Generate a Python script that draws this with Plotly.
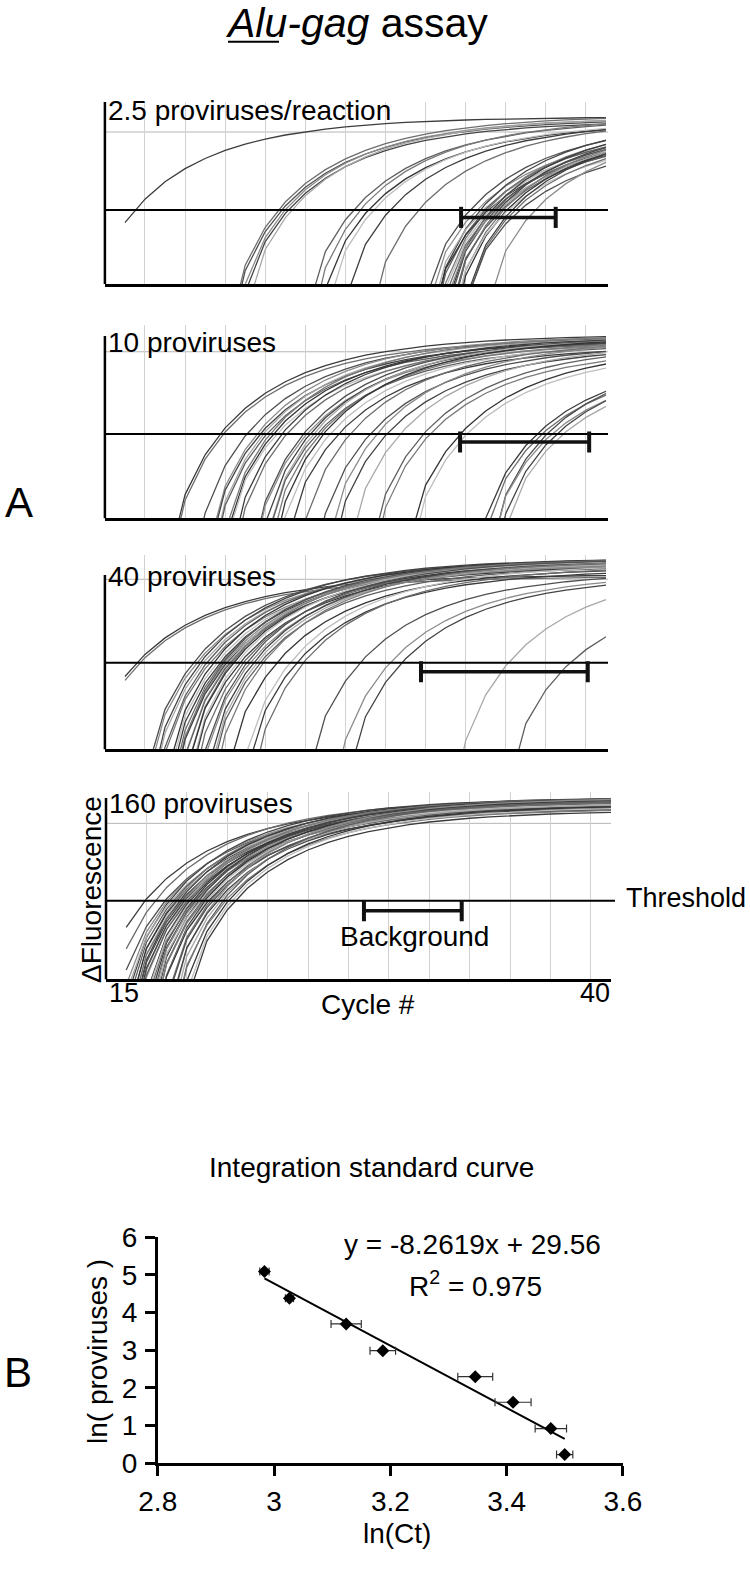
import math
import plotly.graph_objects as go

# ---------------- DATA ----------------
CYCLES = list(range(16, 41))           # data points per amplification curve
GRID_CYCLES = list(range(17, 40, 2))   # vertical grid lines

PANEL_LABELS = ["2.5 proviruses/reaction", "10 proviruses", "40 proviruses", "160 proviruses"]

# threshold-crossing cycles (Ct) of every curve, per panel
ct_p1 = [16.50, 23.65, 23.82, 23.99, 24.15, 24.32, 27.40, 27.73, 28.15, 28.40, 29.23, 30.64,
         33.22, 33.55, 33.72, 33.88, 33.97, 34.05, 34.13, 34.22, 34.30, 34.38, 34.47, 34.55,
         34.63, 34.72, 34.80, 34.88, 35.05, 35.13, 35.30, 35.46, 35.71, 36.46]
ct_p2 = [20.74, 20.91, 22.08, 22.57, 22.74, 22.90, 23.07, 23.24, 23.40, 23.57, 23.82, 24.07,
         24.90, 25.07, 25.23, 25.40, 25.57, 25.73, 25.90, 26.23, 26.65, 27.23, 28.23, 28.56,
         29.06, 29.73, 30.89, 31.22, 32.72, 33.05, 36.55, 36.80, 37.05, 37.30, 37.54, 37.87]
ct_p3 = [16.59, 16.75, 19.41, 19.58, 19.75, 19.91, 20.08, 20.24, 20.41, 20.58, 20.74, 20.83,
         20.91, 20.99, 21.08, 21.16, 21.24, 21.33, 21.41, 21.58, 21.74, 21.91, 22.08, 22.24,
         22.41, 22.57, 22.74, 22.90, 23.57, 24.24, 24.57, 24.90, 27.73, 29.23, 29.81, 35.13, 38.21]
ct_p4 = [16.93, 17.43, 17.92, 18.04, 18.14, 18.23, 18.33, 18.42, 18.50, 18.56, 18.63, 18.70,
         18.76, 18.83, 18.89, 18.96, 19.03, 19.09, 19.16, 19.22, 19.29, 19.36, 19.42, 19.49,
         19.57, 19.65, 19.74, 19.82, 19.90, 19.98, 20.08, 20.18, 20.28, 20.40, 20.51, 20.64,
         20.78, 20.91, 21.06, 21.22, 21.39]

# plateau fluorescence of every curve (relative units)
plat_p1 = [0.92, 0.93, 0.91, 0.92, 0.90, 0.92, 0.91, 0.92, 0.89, 0.90, 0.90, 0.91,
           0.90, 0.86, 0.92, 0.84, 0.88, 0.90, 0.82, 0.87, 0.91, 0.85, 0.88, 0.83,
           0.90, 0.86, 0.84, 0.89, 0.87, 0.82, 0.88, 0.85, 0.80, 0.88]
plat_p2 = [1.01, 0.99, 1.00, 1.01, 0.98, 1.00, 0.97, 1.01, 0.99, 0.96, 1.00, 0.98,
           1.00, 0.97, 0.99, 1.00, 0.96, 0.98, 1.00, 0.97, 0.95, 0.98, 0.96, 0.99,
           0.95, 0.97, 0.96, 0.94, 0.95, 0.93, 0.90, 0.88, 0.92, 0.87, 0.89, 0.86]
plat_p3 = [0.96, 0.95, 1.04, 1.02, 1.05, 1.03, 1.04, 1.01, 1.05, 1.03, 1.02, 1.04,
           1.05, 1.03, 1.01, 1.04, 1.02, 1.05, 1.03, 1.04, 1.01, 1.03, 1.05, 1.02,
           1.04, 1.03, 1.01, 1.04, 1.00, 1.02, 0.99, 1.01, 0.98, 0.97, 0.96, 1.00, 0.90]
plat_p4 = [0.97, 0.99, 0.96, 0.98, 1.00, 0.95, 0.97, 0.99, 0.96, 0.98, 1.00, 0.94,
           0.97, 0.99, 0.96, 0.98, 0.95, 1.00, 0.97, 0.96, 0.99, 0.94, 0.98, 0.97,
           1.00, 0.95, 0.98, 0.96, 0.99, 0.97, 0.94, 0.98, 0.96, 1.00, 0.95, 0.97,
           0.99, 0.94, 0.96, 0.95, 0.93]

THRESHOLD = [0.407, 0.463, 0.476, 0.432]      # threshold level per panel
REF_LINE = [0.835, 0.915, 0.934, 0.857]       # thin grey reference line per panel
BG_START = [32.77, 32.72, 30.77, 27.77]       # background window (cycles)
BG_END = [37.49, 39.16, 39.09, 32.61]
BG_LEVEL = [0.366, 0.419, 0.426, 0.377]

# Panel B: standard curve
ln_ct = [2.9835, 3.0265, 3.124, 3.187, 3.346, 3.411, 3.476, 3.4998]
ln_ct_err = [0.008, 0.007, 0.026, 0.022, 0.030, 0.031, 0.027, 0.014]
ln_prov = [5.09, 4.38, 3.70, 2.99, 2.30, 1.62, 0.92, 0.23]
SLOPE, INTERCEPT = -8.2619, 29.56
fit_x = [2.9835, 3.4998]
B_XTICKS = [2.8, 3.0, 3.2, 3.4, 3.6]
B_XTICKTEXT = ["2.8", "3", "3.2", "3.4", "3.6"]
B_YTICKS = [0, 1, 2, 3, 4, 5, 6]

# ---------------- STYLE / LAYOUT ----------------
W, H = 750, 1584
UNIT = 182.0  # px per relative fluorescence unit
FONT = "Liberation Sans, Arial, sans-serif"
GRAYS = ['#3c3c3c', '#6e6e6e', '#505050', '#8c8c8c', '#444444', '#a8a8a8',
         '#5f5f5f', '#7a7a7a', '#353535', '#bdbdbd']
TAU, P_EXP, PRE_SLOPE = 3.74, 0.85, 0.5


def px(x):
    return x / W


def py(y):
    return 1 - y / H


def curve(ct, plateau, thr):
    u = -math.log(1 - thr / plateau)
    c0 = ct - TAU * u ** (1 / P_EXP)
    out = []
    for c in CYCLES:
        x = c - c0
        if x > 0:
            out.append(plateau * (1 - math.exp(-((x / TAU) ** P_EXP))))
        else:
            out.append(PRE_SLOPE * x)
    return out


PANELS = [
    dict(x0=104.9, x1=608, xr=[15, 40.1], bottom=284.0, top=102, axis_top=102, thr_end=608,
         label_y=111, ct=ct_p1, pl=plat_p1),
    dict(x0=104.9, x1=608, xr=[15, 40.1], bottom=518.3, top=325, axis_top=336, thr_end=608,
         label_y=343, ct=ct_p2, pl=plat_p2),
    dict(x0=104.9, x1=608, xr=[15, 40.1], bottom=749.3, top=555, axis_top=575, thr_end=608,
         label_y=577, ct=ct_p3, pl=plat_p3),
    dict(x0=106.0, x1=611, xr=[15, 40.0], bottom=979.3, top=792, axis_top=798, thr_end=615,
         label_y=803, ct=ct_p4, pl=plat_p4),
]

fig = go.Figure()
layout = dict(width=W, height=H, margin=dict(l=0, r=0, t=0, b=0, autoexpand=False),
              paper_bgcolor='white', plot_bgcolor='white', showlegend=False,
              font=dict(family=FONT, color='black'))
shapes = []
annotations = []

for i, p in enumerate(PANELS):
    n = i + 1
    sfx = '' if n == 1 else str(n)
    xa, ya = 'x' + sfx, 'y' + sfx
    thr = THRESHOLD[i]
    for j, (ct, pl) in enumerate(zip(p['ct'], p['pl'])):
        fig.add_trace(go.Scatter(x=CYCLES, y=curve(ct, pl, thr), mode='lines',
                                 line=dict(color=GRAYS[j % len(GRAYS)], width=1.3),
                                 xaxis=xa, yaxis=ya, hoverinfo='skip'))
    layout['xaxis' + sfx] = dict(domain=[px(p['x0']), px(p['x1'])], range=p['xr'], anchor=ya,
                                 tickvals=GRID_CYCLES, showgrid=True, gridcolor='#d2d2d2', gridwidth=1,
                                 showticklabels=False, ticks='', showline=True, linecolor='black',
                                 linewidth=2.5, zeroline=False, fixedrange=True)
    layout['yaxis' + sfx] = dict(domain=[py(p['bottom']), py(p['top'])],
                                 range=[0, (p['bottom'] - p['top']) / UNIT], anchor=xa,
                                 showgrid=False, showticklabels=False, zeroline=False,
                                 showline=False, ticks='', fixedrange=True)
    # grey reference line
    shapes.append(dict(type='line', xref=xa + ' domain', x0=0, x1=1, yref=ya,
                       y0=REF_LINE[i], y1=REF_LINE[i], line=dict(color='#b5b5b5', width=1),
                       layer='below'))
    # threshold
    shapes.append(dict(type='line', xref='paper', x0=px(p['x0']), x1=px(p['thr_end']), yref=ya,
                       y0=thr, y1=thr, line=dict(color='black', width=2)))
    # y axis line
    shapes.append(dict(type='line', xref='paper', x0=px(p['x0']), x1=px(p['x0']), yref='paper',
                       y0=py(p['bottom']), y1=py(p['axis_top']), line=dict(color='black', width=2.5)))
    # background window bar
    lvl = BG_LEVEL[i]
    shapes.append(dict(type='line', xref=xa, yref=ya, x0=BG_START[i], x1=BG_END[i], y0=lvl, y1=lvl,
                       line=dict(color='#111', width=3.5)))
    for xb in (BG_START[i], BG_END[i]):
        shapes.append(dict(type='line', xref=xa, yref=ya, x0=xb, x1=xb, y0=lvl - 0.058, y1=lvl + 0.058,
                           line=dict(color='#111', width=4)))
    annotations.append(dict(text=PANEL_LABELS[i], xref='paper', yref='paper',
                            x=px(p['x0'] + 1), y=py(p['label_y']), xanchor='left', yanchor='middle',
                            showarrow=False, font=dict(size=28)))

# Panel A extra text
annotations += [
    dict(text='<i>Alu-gag</i> assay', x=px(356), y=py(23), font=dict(size=41)),
    dict(text='A', x=px(19), y=py(503), font=dict(size=42)),
    dict(text='B', x=px(18), y=py(1372), font=dict(size=42)),
    dict(text='Threshold', x=px(624), y=py(898), xanchor='left', font=dict(size=27)),
    dict(text='Background', x=px(414), y=py(936), font=dict(size=28)),
    dict(text='ΔFluorescence', x=px(91), y=py(890), textangle=-90, font=dict(size=28)),
    dict(text='15', x=px(107), y=py(993), xanchor='left', font=dict(size=27)),
    dict(text='40', x=px(612), y=py(993), xanchor='right', font=dict(size=27)),
    dict(text='Cycle #', x=px(368), y=py(1004), font=dict(size=28)),
    dict(text='Integration standard curve', x=px(371), y=py(1167), font=dict(size=28)),
    dict(text='y = -8.2619x + 29.56', x=px(472), y=py(1244), font=dict(size=28)),
    dict(text='R<sup>2</sup> = 0.975', x=px(475), y=py(1284), font=dict(size=28)),
    dict(text='ln(Ct)', x=px(397), y=py(1533), font=dict(size=28)),
    dict(text='ln( proviruses )', x=px(97), y=py(1352), textangle=-90, font=dict(size=28)),
]
for a in annotations:
    a.setdefault('xref', 'paper')
    a.setdefault('yref', 'paper')
    a.setdefault('showarrow', False)
    a.setdefault('xanchor', 'center')
    a.setdefault('yanchor', 'middle')

# underline under "Alu"
shapes.append(dict(type='line', xref='paper', yref='paper', x0=px(228), x1=px(279),
                   y0=py(41.7), y1=py(41.7), line=dict(color='black', width=2)))

# Panel B
fig.add_trace(go.Scatter(x=fit_x, y=[SLOPE * v + INTERCEPT for v in fit_x], mode='lines',
                         line=dict(color='black', width=2), xaxis='x5', yaxis='y5', hoverinfo='skip'))
fig.add_trace(go.Scatter(x=ln_ct, y=ln_prov, mode='markers',
                         marker=dict(symbol='diamond', size=10, color='black'),
                         error_x=dict(type='data', array=ln_ct_err, color='#333', thickness=1.2, width=4),
                         xaxis='x5', yaxis='y5'))
layout['xaxis5'] = dict(domain=[px(157.7), px(623)], range=[2.7999, 3.6001], anchor='y5',
                        tickvals=B_XTICKS, ticktext=B_XTICKTEXT, ticks='outside', ticklen=10,
                        tickwidth=2.5, tickcolor='black', showline=True, linecolor='black',
                        linewidth=2.5, showgrid=False, zeroline=False, tickfont=dict(size=28),
                        ticklabelstandoff=1)
layout['yaxis5'] = dict(domain=[py(1463.3), py(1237.3)], range=[-0.001, 6.001], anchor='x5',
                        tickvals=B_YTICKS, ticks='outside', ticklen=10, tickwidth=2.5,
                        tickcolor='black', showline=True, linecolor='black', linewidth=2.5,
                        showgrid=False, zeroline=False, tickfont=dict(size=28),
                        ticklabelstandoff=2)

layout['shapes'] = shapes
layout['annotations'] = annotations
fig.update_layout(**layout)
fig.write_html("out.html", config={'displayModeBar': False},
               post_script="document.body.style.margin='0';document.body.style.overflow='hidden';")
